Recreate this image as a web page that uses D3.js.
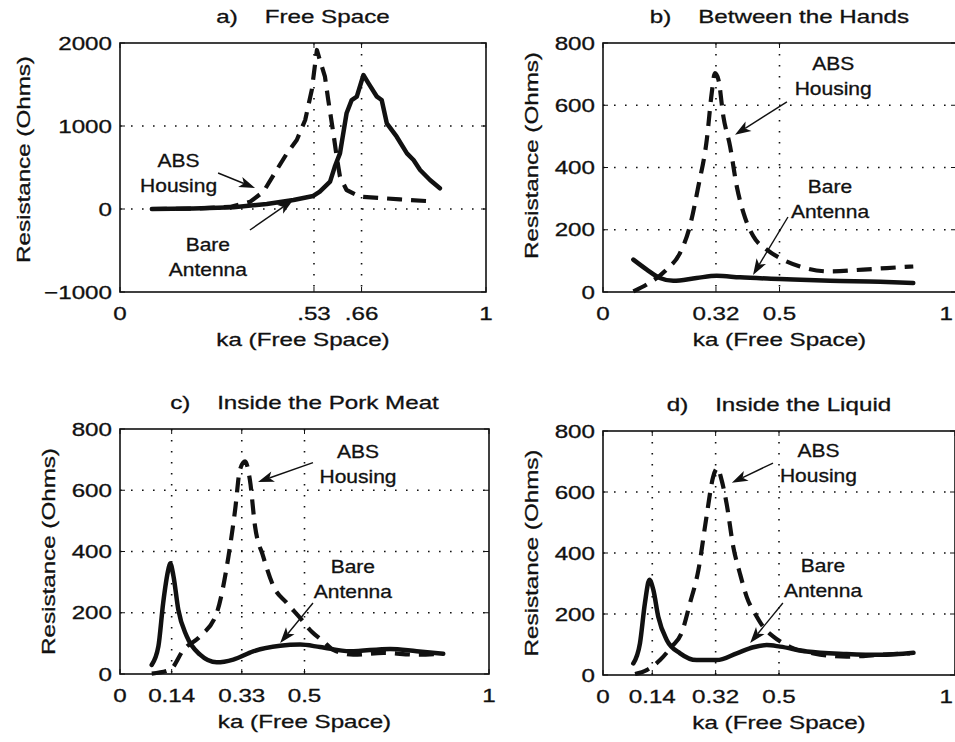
<!DOCTYPE html>
<html>
<head>
<meta charset="utf-8">
<script src="https://cdnjs.cloudflare.com/ajax/libs/d3/7.8.5/d3.min.js"></script>
<style>
body{margin:0;background:#fff;}
text{font-family:"Liberation Sans",Arial,Helvetica,sans-serif;fill:#111;stroke:#111;stroke-width:0.3px;}
</style>
</head>
<body>
<div id="chart"></div>
<script>
// ---- data ----
var titles = ["a)\u00a0\u00a0\u00a0\u00a0Free Space", "b)\u00a0\u00a0\u00a0\u00a0Between the Hands",
              "c)\u00a0\u00a0\u00a0\u00a0Inside the Pork Meat", "d)\u00a0\u00a0\u00a0\u00a0Inside the Liquid"];

// a) free space
var aBareKa = [0.087,0.2,0.31,0.401,0.474,0.528,0.546,0.574,0.587,0.601,0.619,0.633,0.647,0.665,0.679,0.702,0.715,0.729,0.756,0.784,0.802,0.820,0.847,0.874];
var aBareR  = [0,5,20,60,108,157,209,329,510,670,1153,1313,1353,1614,1514,1353,1313,1032,871,670,590,470,349,249];
var aAbsKa  = [0.087,0.2,0.3,0.356,0.392,0.428,0.456,0.483,0.506,0.524,0.538,0.546,0.560,0.569,0.583,0.592,0.601,0.619,0.656,0.720,0.765,0.838];
var aAbsR   = [0,5,25,88,209,470,670,831,1072,1434,1916,1795,1594,1313,912,631,390,229,149,129,116,96];

// b) between the hands
var bBareKa = [0.086,0.124,0.161,0.199,0.265,0.322,0.388,0.501,0.643,0.785,0.879];
var bBareR  = [104,72,45,36,45,52,47,42,36,33,29];
var bAbsKa  = [0.086,0.124,0.180,0.218,0.246,0.270,0.294,0.308,0.317,0.327,0.341,0.360,0.379,0.398,0.426,0.464,0.501,0.558,0.643,0.737,0.804,0.879];
var bAbsR   = [2,24,72,125,211,339,489,639,703,682,564,468,339,254,179,136,109,82,66,72,77,82];

// c) inside the pork meat
var cBareKa = [0.086,0.104,0.117,0.131,0.136,0.145,0.158,0.181,0.217,0.262,0.307,0.361,0.434,0.488,0.542,0.623,0.732,0.804,0.876];
var cBareR  = [30,90,232,341,362,319,210,123,63,38,47,74,92,96,88,74,82,74,66];
var cAbsKa  = [0.086,0.136,0.172,0.217,0.262,0.294,0.312,0.325,0.339,0.352,0.366,0.388,0.416,0.452,0.488,0.519,0.551,0.578,0.632,0.714,0.804,0.867];
var cAbsR   = [1,14,79,123,199,384,536,667,694,634,482,384,286,232,183,139,107,79,63,69,63,66];

// d) inside the liquid
var dBareKa = [0.086,0.105,0.119,0.132,0.143,0.157,0.181,0.219,0.266,0.323,0.380,0.427,0.465,0.503,0.579,0.692,0.787,0.882];
var dBareR  = [38,104,235,312,279,191,115,71,49,49,71,91,98,93,77,69,66,73];
var dAbsKa  = [0.091,0.124,0.162,0.195,0.223,0.247,0.271,0.294,0.313,0.325,0.337,0.351,0.370,0.389,0.408,0.437,0.455,0.484,0.512,0.541,0.598,0.692,0.787,0.872];
var dAbsR   = [3,16,49,93,137,235,344,519,650,678,639,563,421,333,257,191,158,126,104,87,71,60,66,71];

// ticks
var aXTicks = [0,0.53,0.66,1], aXLabels = ["0",".53",".66","1"];
var bXTicks = [0,0.32,0.5,1],  bXLabels = ["0","0.32","0.5","1"];
var cXTicks = [0,0.14,0.33,0.5,1], cXLabels = ["0","0.14","0.33","0.5","1"];
var dXTicks = [0,0.14,0.32,0.5,1], dXLabels = ["0","0.14","0.32","0.5","1"];
var aYTicks = [-1000,0,1000,2000], aYLabels = ["\u22121000","0","1000","2000"];
var ohmTicks = [0,200,400,600,800], ohmLabels = ["0","200","400","600","800"];

// annotations: label (first line) and arrow in data units
var aNotes = [{lines:["ABS","Housing"], ka:0.16, r:506, from:[0.268,434], to:[0.369,253]},
              {lines:["Bare","Antenna"], ka:0.24, r:-506, from:[0.355,-253], to:[0.473,108]}];
var bNotes = [{lines:["ABS","Housing"], ka:0.652, r:714, from:[0.521,611], to:[0.374,505]},
              {lines:["Bare","Antenna"], ka:0.643, r:318, from:[0.524,241], to:[0.425,55]}];
var cNotes = [{lines:["ABS","Housing"], ka:0.645, r:706, from:[0.523,690], to:[0.374,627]},
              {lines:["Bare","Antenna"], ka:0.631, r:330, from:[0.523,232], to:[0.434,101]}];
var dNotes = [{lines:["ABS","Housing"], ka:0.612, r:715, from:[0.483,695], to:[0.366,630]},
              {lines:["Bare","Antenna"], ka:0.625, r:338, from:[0.511,236], to:[0.418,105]}];

// ---- layout ----
var W = 955, H = 742;
var FS = 18.6, SX = 1.3;   // scanned type is wide
var ink = "#111";

var svg = d3.select("#chart").append("svg")
    .attr("width", W).attr("height", H);

var panels = [
  {box:[120,43,486,292],  ydom:[-1000,2000], xt:aXTicks, xl:aXLabels, yt:aYTicks, yl:aYLabels, bare:[aBareKa,aBareR], abs:[aAbsKa,aAbsR], notes:aNotes, curve:d3.curveLinear, ylabX:23,  ylabDy:-8},
  {box:[603,43,956,292],  ydom:[0,800], xt:bXTicks, xl:bXLabels, yt:ohmTicks, yl:ohmLabels, bare:[bBareKa,bBareR], abs:[bAbsKa,bAbsR], notes:bNotes, curve:d3.curveMonotoneX, ylabX:531, ylabDy:-12},
  {box:[120,429,489,674], ydom:[0,800], xt:cXTicks, xl:cXLabels, yt:ohmTicks, yl:ohmLabels, bare:[cBareKa,cBareR], abs:[cAbsKa,cAbsR], notes:cNotes, curve:d3.curveMonotoneX, ylabX:48,  ylabDy:0},
  {box:[603,431,955,675], ydom:[0,800], xt:dXTicks, xl:dXLabels, yt:ohmTicks, yl:ohmLabels, bare:[dBareKa,dBareR], abs:[dAbsKa,dAbsR], notes:dNotes, curve:d3.curveMonotoneX, ylabX:531, ylabDy:0}
];

// text helper - stretches glyphs along the baseline like the scan
function txt(g, s, x, y, anchor, size, sx, rot){
  return g.append("text")
    .attr("transform", "translate(" + x + "," + y + ")" + (rot ? " rotate(-90)" : "") + " scale(" + sx + ",1)")
    .attr("text-anchor", anchor)
    .style("font-size", size + "px")
    .text(s);
}

panels.forEach(function(p, i){
  var x0 = p.box[0], y0 = p.box[1], x1 = p.box[2], y1 = p.box[3];
  var x = d3.scaleLinear().domain([0,1]).range([x0,x1]);
  var y = d3.scaleLinear().domain(p.ydom).range([y1,y0]);
  var g = svg.append("g");

  // dotted grid
  g.selectAll(".gx").data(p.xt.filter(function(d){ return d>0 && d<1; }))
    .enter().append("line")
    .attr("x1", function(d){ return x(d); }).attr("x2", function(d){ return x(d); })
    .attr("y1", y0).attr("y2", y1)
    .attr("stroke", ink).attr("stroke-width", 1.6).attr("stroke-dasharray", "1.6,9.4");
  g.selectAll(".gy").data(p.yt.filter(function(d){ return d>p.ydom[0] && d<p.ydom[1]; }))
    .enter().append("line")
    .attr("y1", function(d){ return y(d); }).attr("y2", function(d){ return y(d); })
    .attr("x1", x0).attr("x2", x1)
    .attr("stroke", ink).attr("stroke-width", 1.6).attr("stroke-dasharray", "1.6,9.4");

  // inward ticks on all four sides
  p.xt.forEach(function(d){
    g.append("line").attr("x1", x(d)).attr("x2", x(d)).attr("y1", y1).attr("y2", y1-5).attr("stroke", ink);
    g.append("line").attr("x1", x(d)).attr("x2", x(d)).attr("y1", y0).attr("y2", y0+5).attr("stroke", ink);
  });
  p.yt.forEach(function(d){
    g.append("line").attr("y1", y(d)).attr("y2", y(d)).attr("x1", x0).attr("x2", x0+5).attr("stroke", ink);
    g.append("line").attr("y1", y(d)).attr("y2", y(d)).attr("x1", x1).attr("x2", x1-5).attr("stroke", ink);
  });

  // frame
  g.append("rect").attr("x", x0).attr("y", y0).attr("width", x1-x0).attr("height", y1-y0)
    .attr("fill", "none").attr("stroke", ink).attr("stroke-width", 1.6);

  // tick labels (the "1" at the page edge is pulled in, as in the scan)
  p.xt.forEach(function(d, k){
    var px = x(d);
    if(px + 9 > W){ txt(g, p.xl[k], W-2, y1+28, "end", FS, SX); }
    else{ txt(g, p.xl[k], px, y1+28, "middle", FS, SX); }
  });
  p.yt.forEach(function(d, k){ txt(g, p.yl[k], x0-8, y(d)+6.7, "end", FS, SX); });

  // titles and axis labels
  txt(g, titles[i], (x0+x1)/2, y0-20, "middle", FS, SX);
  txt(g, "ka (Free Space)", (x0+x1)/2, y1+54, "middle", FS, SX);
  txt(g, "Resistance (Ohms)", p.ylabX+6.7, (y0+y1)/2+p.ylabDy, "middle", FS, SX, true);

  // curves
  var line = d3.line()
    .x(function(d){ return x(d[0]); })
    .y(function(d){ return y(d[1]); })
    .curve(p.curve);
  var bare = p.bare[0].map(function(k, j){ return [k, p.bare[1][j]]; });
  var abs  = p.abs[0].map(function(k, j){ return [k, p.abs[1][j]]; });

  g.append("path").datum(abs).attr("d", line)
    .attr("fill", "none").attr("stroke", ink).attr("stroke-width", 4.2)
    .attr("stroke-dasharray", "15,9").attr("stroke-linejoin", "round");
  g.append("path").datum(bare).attr("d", line)
    .attr("fill", "none").attr("stroke", ink).attr("stroke-width", 4.5)
    .attr("stroke-linejoin", "round").attr("stroke-linecap", "round");

  // annotations with arrows
  p.notes.forEach(function(n){
    n.lines.forEach(function(s, k){ txt(g, s, x(n.ka), y(n.r)+k*25, "middle", 17.8, 1.18); });
    var ax = x(n.from[0]), ay = y(n.from[1]), bx = x(n.to[0]), by = y(n.to[1]);
    var ang = Math.atan2(by-ay, bx-ax);
    var L = 16, hw = 5.5, notch = 12;
    var ux = Math.cos(ang), uy = Math.sin(ang);
    g.append("line").attr("x1", ax).attr("y1", ay)
      .attr("x2", bx - ux*notch).attr("y2", by - uy*notch)
      .attr("stroke", ink).attr("stroke-width", 1.4);
    var pts = [[bx, by],
               [bx - ux*L - uy*hw, by - uy*L + ux*hw],
               [bx - ux*notch, by - uy*notch],
               [bx - ux*L + uy*hw, by - uy*L - ux*hw]];
    g.append("path").attr("d", "M" + pts.map(function(q){ return q[0] + "," + q[1]; }).join("L") + "Z")
      .attr("fill", ink);
  });
});
</script>
</body>
</html>
